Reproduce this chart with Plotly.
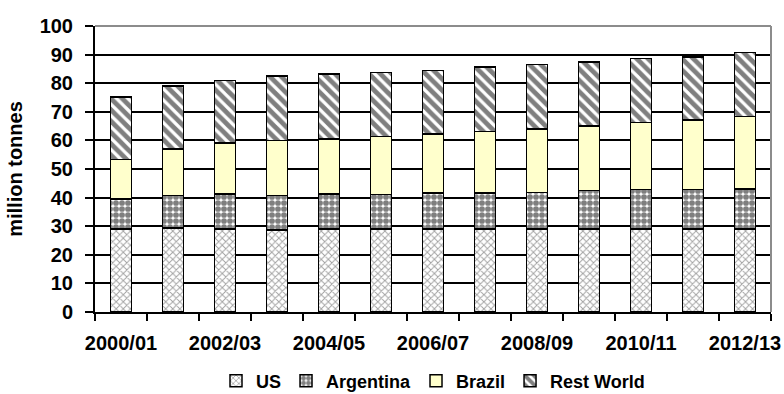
import plotly.graph_objects as go

categories = ["2000/01", "2001/02", "2002/03", "2003/04", "2004/05", "2005/06", "2006/07",
              "2007/08", "2008/09", "2009/10", "2010/11", "2011/12", "2012/13"]
us = [29.0, 29.3, 29.0, 28.6, 29.0, 29.0, 29.0, 29.0, 29.0, 29.0, 29.0, 29.0, 29.0]
argentina = [10.5, 11.4, 12.3, 12.1, 12.3, 12.0, 12.6, 12.6, 12.8, 13.4, 13.8, 13.8, 14.0]
brazil = [13.8, 16.3, 17.8, 19.3, 19.2, 20.4, 20.6, 21.6, 22.2, 22.7, 23.5, 24.4, 25.4]
rest_world = [21.8, 22.1, 21.8, 22.6, 22.7, 22.3, 22.3, 22.4, 22.6, 22.4, 22.3, 22.0, 22.3]
y_ticks = [0, 10, 20, 30, 40, 50, 60, 70, 80, 90, 100]

xpos = list(range(len(categories)))
FONT = "Liberation Sans, Arial, sans-serif"

fig = go.Figure()
line = dict(color="black", width=1.5)
fig.add_trace(go.Bar(x=xpos, y=us, name="US",
                     marker=dict(color="white", line=line,
                                 pattern=dict(shape="x", fgcolor="#444444", bgcolor="white",
                                              size=5, solidity=0.35))))
fig.add_trace(go.Bar(x=xpos, y=argentina, name="Argentina",
                     marker=dict(color="white", line=line,
                                 pattern=dict(shape=".", fgcolor="black", bgcolor="white",
                                              size=6, solidity=0.72))))
fig.add_trace(go.Bar(x=xpos, y=brazil, name="Brazil",
                     marker=dict(color="#FFFFCC", line=line)))
fig.add_trace(go.Bar(x=xpos, y=rest_world, name="Rest World",
                     marker=dict(color="white", line=line,
                                 pattern=dict(shape="\\", fgcolor="black", bgcolor="white",
                                              size=8, solidity=0.6))))

fig.update_layout(
    barmode="stack",
    bargap=0.6,
    width=784, height=394,
    margin=dict(l=95, r=13, t=26, b=82, autoexpand=False),
    paper_bgcolor="white",
    plot_bgcolor="white",
    font=dict(family=FONT, color="black"),
    showlegend=True,
    legend=dict(orientation="h", x=0.5, xanchor="center",
                yref="container", y=0.033, yanchor="middle",
                traceorder="normal", font=dict(size=18, weight="bold"),
                itemwidth=30, tracegroupgap=0),
    xaxis=dict(
        range=[-0.5, len(categories) - 0.5],
        tickmode="array",
        tickvals=xpos[::2],
        ticktext=categories[::2],
        ticks="",
        tickfont=dict(size=20, weight="bold"),
        ticklabelstandoff=12,
        automargin=False,
        showgrid=False,
        showline=True, linecolor="black", linewidth=2,
        minor=dict(tickmode="linear", tick0=-0.5, dtick=1, ticks="outside",
                   ticklen=7, tickwidth=1.5, tickcolor="black", showgrid=False),
        zeroline=False,
    ),
    yaxis=dict(
        range=[0, 100],
        tickmode="array",
        tickvals=y_ticks,
        ticks="outside", ticklen=8, tickwidth=1.5, tickcolor="black",
        tickfont=dict(size=20, weight="bold"),
        ticklabelstandoff=8,
        automargin=False,
        showgrid=True, gridcolor="black", gridwidth=1.5,
        showline=True, linecolor="black", linewidth=2,
        zeroline=False,
        title=dict(text="million tonnes", font=dict(size=20, weight="bold"), standoff=12),
    ),
    shapes=[
        dict(type="line", xref="paper", yref="paper", x0=0, x1=1, y0=1, y1=1,
             line=dict(color="#8c8c8c", width=2), layer="above"),
        dict(type="line", xref="paper", yref="paper", x0=1, x1=1, y0=0, y1=1,
             line=dict(color="#8c8c8c", width=2), layer="above"),
    ],
)

# Remove the default 8px page margin so the 784x394 figure fills the window exactly.
fig.write_html("out.html", config={"displayModeBar": False},
               post_script="document.body.style.margin='0';")
